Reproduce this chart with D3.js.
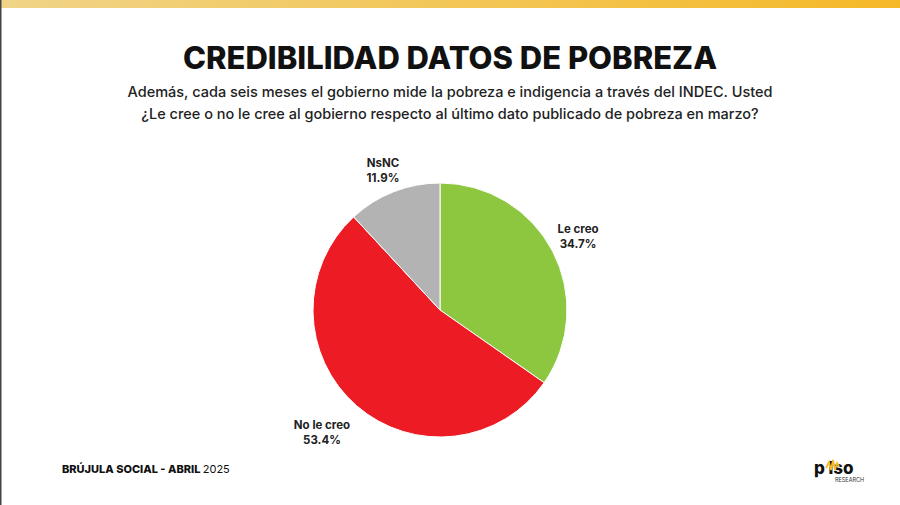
<!DOCTYPE html><html><head><meta charset="utf-8"><script src="https://cdn.jsdelivr.net/npm/d3@7"></script>
<style>body{margin:0;background:#fff}svg{display:block}text{font-family:Inter,"Open Sans",sans-serif}</style></head><body>
<script>
const categories=["Le creo","No le creo","NsNC"];
const values=[34.7,53.4,11.9];
const colors=["#8dc63f","#ed1c24","#b3b3b3"];
const labelPos=[[578,229],[322,425],[383,163]];
const W=900,H=505;
const svg=d3.select("body").append("svg").attr("width",W).attr("height",H);
const g=svg.append("defs").append("linearGradient").attr("id","gb");
g.append("stop").attr("offset","0").attr("stop-color","#f0d488");
g.append("stop").attr("offset","1").attr("stop-color","#f5b928");
svg.append("rect").attr("width",W).attr("height",8).attr("fill","url(#gb)");
svg.append("rect").attr("width",1.5).attr("height",H).attr("fill","#444");
svg.append("text").attr("x",450).attr("y",69).attr("text-anchor","middle").attr("font-size",31).attr("font-weight",800).attr("fill","#111").text("CREDIBILIDAD DATOS DE POBREZA");
["Además, cada seis meses el gobierno mide la pobreza e indigencia a través del INDEC. Usted","¿Le cree o no le cree al gobierno respecto al último dato publicado de pobreza en marzo?"].forEach((t,i)=>
svg.append("text").attr("x",450).attr("y",97+i*22).attr("text-anchor","middle").attr("font-size",14.5).attr("font-weight",500).attr("fill","#222").text(t));
const pie=d3.pie().sort(null).value(d=>d)(values);
const arc=d3.arc().innerRadius(0).outerRadius(127);
const pg=svg.append("g").attr("transform","translate(440,310)");
pg.selectAll("path").data(pie).join("path").attr("d",arc).attr("fill",(d,i)=>colors[i]).attr("stroke","#fff").attr("stroke-width",1);
categories.forEach((c,i)=>{const t=svg.append("text").attr("text-anchor","middle").attr("font-size",11.5).attr("font-weight",700).attr("fill","#222");
t.append("tspan").attr("x",labelPos[i][0]).attr("y",labelPos[i][1]+4).text(c);
t.append("tspan").attr("x",labelPos[i][0]).attr("y",labelPos[i][1]+19).text(values[i].toFixed(1)+"%");});
const f=svg.append("text").attr("x",62).attr("y",473).attr("font-size",11).attr("fill","#111");
f.append("tspan").attr("font-weight",800).text("BRÚJULA SOCIAL - ABRIL ");f.append("tspan").text("2025");
svg.append("text").attr("x",814).attr("y",474).attr("font-size",17).attr("font-weight",800).attr("fill","#111").text("p   lso");
svg.append("path").attr("d","M826,468 l3,-6 l2,8 l2,-10 l2,10 l2,-7 l2,3").attr("fill","none").attr("stroke","#f5b928").attr("stroke-width",1.8);
svg.append("text").attr("x",835).attr("y",482).attr("font-size",5.5).attr("fill","#333").text("RESEARCH");
</script></body></html>
